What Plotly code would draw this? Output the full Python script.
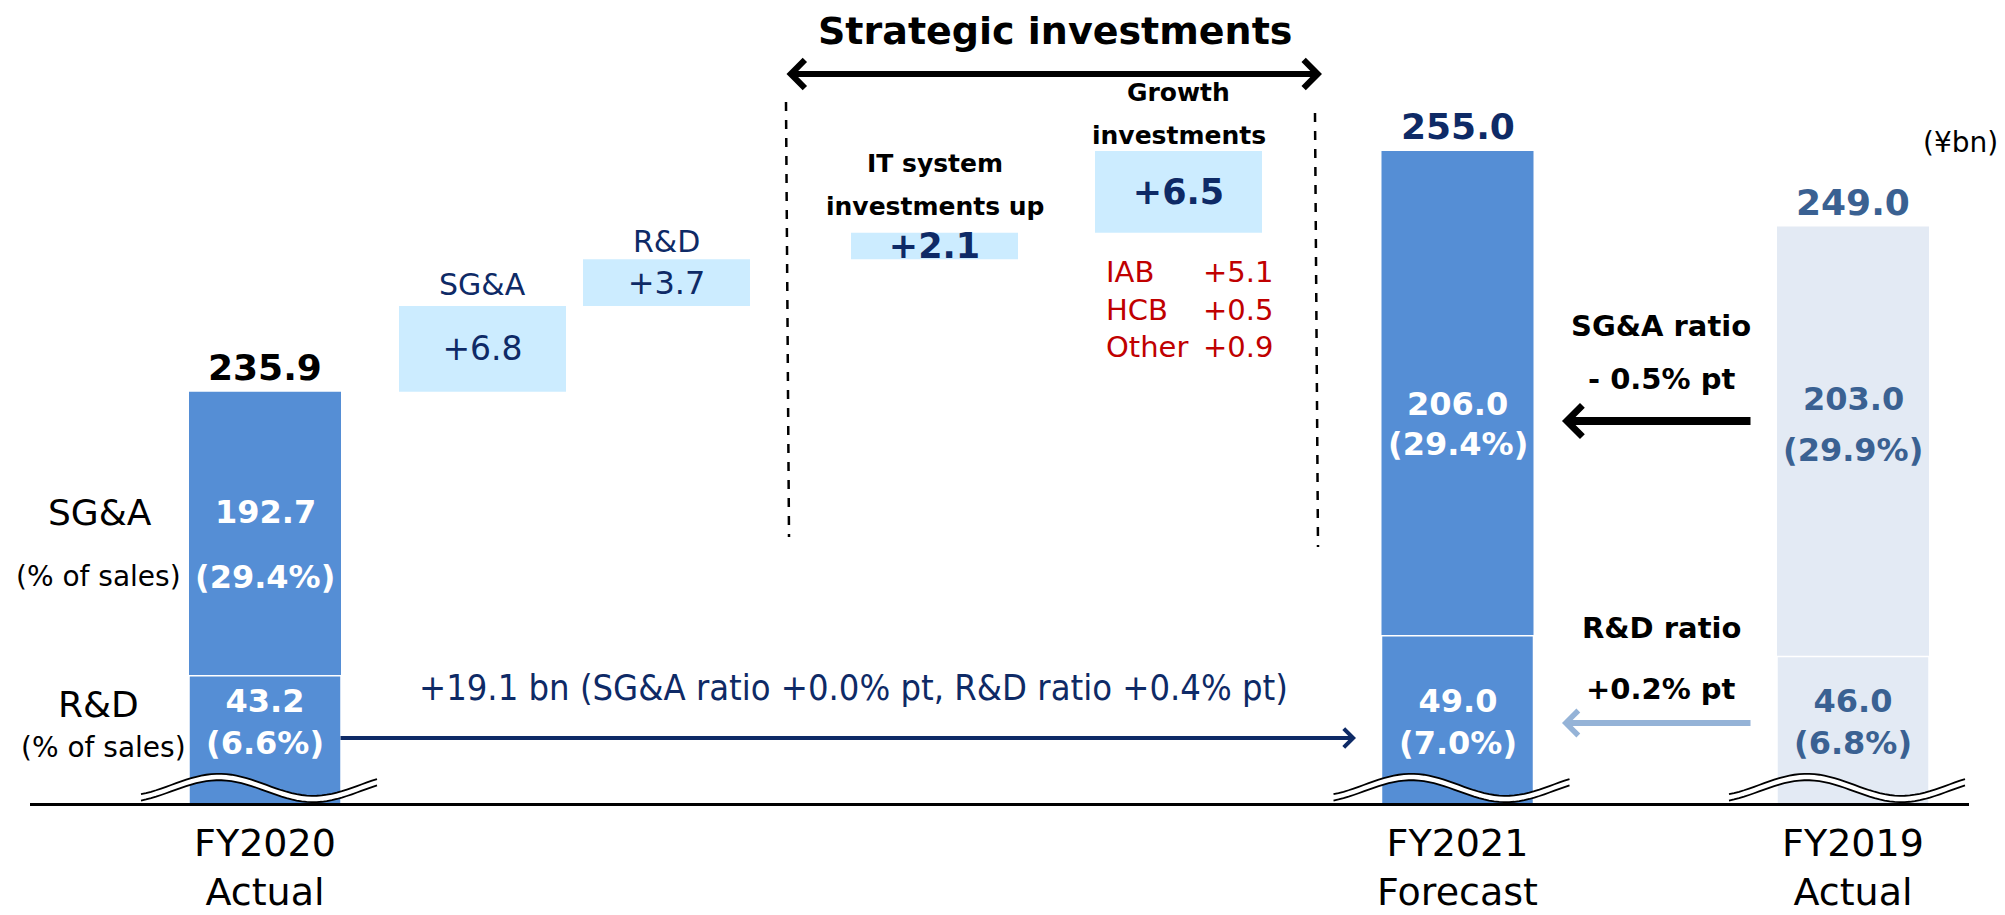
import numpy as np
import plotly.graph_objects as go

# ---------------- data ----------------
period_labels = ["FY2020<br>Actual", "FY2021<br>Forecast", "FY2019<br>Actual"]
sga_values = [192.7, 206.0, 203.0]
rd_values = [43.2, 49.0, 46.0]
total_values = [235.9, 255.0, 249.0]
sga_ratio = [29.4, 29.4, 29.9]
rd_ratio = [6.6, 7.0, 6.8]

step_names = ["SG&A", "R&D", "IT system<br>investments up", "Growth<br>investments"]
step_values = [6.8, 3.7, 2.1, 6.5]
step_strategic = [False, False, True, True]

growth_items = ["IAB", "HCB", "Other"]
growth_item_values = [5.1, 0.5, 0.9]

yoy_change_text = "+19.1 bn (SG&A ratio +0.0% pt, R&D ratio +0.4% pt)"
sga_ratio_change = ["SG&A ratio", "- 0.5% pt"]
rd_ratio_change = ["R&D ratio", "+0.2% pt"]
unit_label = "(¥bn)"
title_text = "Strategic investments"

# ---------------- layout / style ----------------
PAGE_OFF = 8                      # default body margin of the html page
W, H = 2005 - PAGE_OFF, 915 - PAGE_OFF
BASE_PX = 803                     # page y of the baseline
PLOT_H = BASE_PX - PAGE_OFF       # plot area height
period_x = [2.65, 14.575, 18.53]  # x positions (1 unit = 100 page px)
step_x = [4.825, 6.665, 9.345, 11.785]
BAR_W, BOX_W = 1.52, 1.67
Y_RANGE = [203.29, 266.33]        # broken axis, upper part
Y2_RANGE = [24.67, 140.39]        # broken axis, lower part (R&D)
SGA_LABEL_Y = [(512, 577), (404, 444), (399, 450)]   # page y of the two label lines
RD_LABEL_Y = 722

FONT = "DejaVu Sans"
BLUE = "#558ED5"
LIGHT = "#E3EAF4"
BOX = "#CCECFF"
NAVY = "#0E2A66"
STEEL = "#3A6192"
RED = "#C00000"
ARROW_LIGHT = "#95B3D7"
bar_colors = [BLUE, BLUE, LIGHT]
total_colors = ["#000000", NAVY, STEEL]
inner_colors = ["white", "white", STEEL]


def px_x(px):
    return (px - PAGE_OFF) / W


def px_y(py):
    return 1 - (py - PAGE_OFF) / PLOT_H


def paper_text(txt, cx, cy, size, color="black", family=FONT, **kw):
    d = dict(x=px_x(cx), y=px_y(cy), xref="paper", yref="paper", text=txt,
             showarrow=False, xanchor="center", yanchor="middle",
             font=dict(family=family, size=size, color=color))
    d.update(kw)
    return d


def paper_arrow(head, tail, width, size, color, **kw):
    d = dict(x=px_x(head[0]), y=px_y(head[1]), xref="paper", yref="paper", text="",
             showarrow=True, ax=tail[0] - head[0], ay=tail[1] - head[1],
             arrowhead=4, arrowwidth=width, arrowsize=size, arrowcolor=color,
             standoff=0)
    d.update(kw)
    return d


fig = go.Figure()

# totals (SG&A + R&D), upper scale
fig.add_bar(x=period_x, y=total_values, width=BAR_W, yaxis="y",
            marker=dict(color=bar_colors, line=dict(width=0)),
            name="Total", hoverinfo="x+y")
# R&D part, lower scale (broken axis)
fig.add_bar(x=period_x, y=rd_values, width=BAR_W, yaxis="y2",
            marker=dict(color=bar_colors, line=dict(color="white", width=1.5)),
            name="R&D", hoverinfo="x+y")

# waterfall steps
bases = []
acc = total_values[0]
for v in step_values:
    bases.append(acc)
    acc += v
step_text = [("<b>+%.1f</b>" if s else "+%.1f") % v for v, s in zip(step_values, step_strategic)]
fig.add_bar(x=step_x, y=step_values, base=bases, width=BOX_W, yaxis="y",
            marker=dict(color=BOX, line=dict(width=0)),
            text=step_text, textposition="inside", insidetextanchor="middle",
            constraintext="none", textangle=0,
            textfont=dict(family=FONT, size=[33, 32, 35, 35], color=NAVY),
            name="Change", hoverinfo="y")

ann = []

# total labels above bars
for x, t, c in zip(period_x, total_values, total_colors):
    ann.append(dict(x=x, y=t, xref="x", yref="y", text="<b>%.1f</b>" % t,
                    showarrow=False, xanchor="center", yanchor="bottom", yshift=2,
                    font=dict(family=FONT, size=36, color=c)))

# SG&A labels in the SG&A segment
for x, s, p, c, (y1, y2) in zip(period_x, sga_values, sga_ratio, inner_colors, SGA_LABEL_Y):
    for txt, yy in (("<b>%.1f</b>" % s, y1), ("<b>(%.1f%%)</b>" % p, y2)):
        ann.append(dict(x=x, y=px_y(yy), xref="x", yref="paper", text=txt,
                        showarrow=False, xanchor="center", yanchor="middle",
                        font=dict(family=FONT, size=32, color=c)))

# R&D labels on the R&D row
for x, r, p, c in zip(period_x, rd_values, rd_ratio, inner_colors):
    ann.append(dict(x=x, y=px_y(RD_LABEL_Y), xref="x", yref="paper",
                    text="<b>%.1f</b><br><b>(%.1f%%)</b>" % (r, p),
                    showarrow=False, xanchor="center", yanchor="middle",
                    font=dict(family=FONT, size=32, color=c)))

# row labels on the left
for txt, cx, cy, size in [("SG&A", 100, 512, 36), ("(% of sales)", 98, 576, 28),
                          ("R&D", 98, 704, 36), ("(% of sales)", 103, 747, 28)]:
    ann.append(paper_text(txt, cx, cy, size))

# step labels above the boxes
label_offsets = [22, 18, 26, 15]
label_styles = [(30, NAVY, False), (30, NAVY, False), (25, "black", True), (25, "black", True)]
for x, b, v, name, off, (size, col, bold) in zip(step_x, bases, step_values, step_names,
                                                 label_offsets, label_styles):
    lines = name.split("<br>")
    for i, line in enumerate(reversed(lines)):
        ann.append(dict(x=x, y=b + v, xref="x", yref="y",
                        text=("<b>%s</b>" % line) if bold else line,
                        showarrow=False, xanchor="center", yanchor="middle",
                        yshift=off + i * 43,
                        font=dict(family=FONT, size=size, color=col)))

# growth breakdown (red)
ann.append(dict(x=step_x[3], y=bases[3], xref="x", yref="y",
                text="<br>".join(growth_items), align="left", showarrow=False,
                xanchor="left", yanchor="middle", xshift=-75, yshift=-77,
                font=dict(family=FONT, size=29, color=RED)))
ann.append(dict(x=step_x[3], y=bases[3], xref="x", yref="y",
                text="<br>".join("+%.1f" % v for v in growth_item_values), align="right",
                showarrow=False, xanchor="right", yanchor="middle", xshift=96, yshift=-77,
                font=dict(family=FONT, size=29, color=RED)))

# title of strategic block and its double arrow
ann.append(paper_text("<b>%s</b>" % title_text, 1055, 31, 38))
ann.append(paper_arrow((1322, 74), (785, 74), 6, 0.9, "black",
                       startarrowhead=4, arrowside="end+start", startarrowsize=0.9,
                       startstandoff=0))

# year-on-year change arrow
ann.append(paper_text(yoy_change_text, 853, 687, 36, NAVY,
                      family="Liberation Sans Narrow, DejaVu Sans Condensed, Liberation Sans"))
ann.append(paper_arrow((1356, 738), (339, 738), 4, 0.9, NAVY))

# ratio change arrows (FY2019 -> FY2021)
ann.append(paper_text("<b>%s</b>" % sga_ratio_change[0], 1661, 326, 29))
ann.append(paper_text("<b>%s</b>" % sga_ratio_change[1], 1661, 379, 29))
ann.append(paper_arrow((1562, 421), (1752, 421), 8, 0.75, "black"))
ann.append(paper_text("<b>%s</b>" % rd_ratio_change[0], 1661, 628, 29))
ann.append(paper_text("<b>%s</b>" % rd_ratio_change[1], 1661, 689, 29))
ann.append(paper_arrow((1562, 723), (1752, 723), 6, 0.8, ARROW_LIGHT))

# unit
ann.append(paper_text(unit_label, 1960, 143, 28))

# shapes: dashed separators and axis-break waves
shapes = [
    dict(type="line", xref="paper", yref="paper", x0=px_x(786), y0=px_y(102),
         x1=px_x(789), y1=px_y(537), line=dict(color="black", width=2.5, dash="dash")),
    dict(type="line", xref="paper", yref="paper", x0=px_x(1315), y0=px_y(113),
         x1=px_x(1318), y1=px_y(547), line=dict(color="black", width=2.5, dash="dash")),
]


def wave(x_left, x_right, offset):
    ts = np.linspace(0, 1, 48)
    xs = x_left + ts * (x_right - x_left)
    ys = 788 - 11 * np.sin(2 * np.pi * (ts - 0.13) / 0.8) + offset
    return "M " + " L ".join("%.5f,%.5f" % (px_x(a), px_y(b)) for a, b in zip(xs, ys))


for x in period_x:
    cx = x * 100
    xl, xr = cx - BAR_W * 50 - 48, cx + BAR_W * 50 + 36
    shapes.append(dict(type="path", xref="paper", yref="paper", path=wave(xl, xr, 0),
                       line=dict(color="white", width=6)))
    for off in (-3.2, 3.2):
        shapes.append(dict(type="path", xref="paper", yref="paper", path=wave(xl, xr, off),
                           line=dict(color="black", width=1.8)))

fig.update_layout(
    width=W, height=H,
    margin=dict(l=0, r=0, t=0, b=H - PLOT_H, pad=0, autoexpand=False),
    paper_bgcolor="white", plot_bgcolor="white",
    barmode="overlay", showlegend=False,
    font=dict(family=FONT),
    xaxis=dict(domain=[(30 - PAGE_OFF) / W, (1969 - PAGE_OFF) / W], range=[0.30, 19.69],
               automargin=False,
               showline=True, linecolor="black", linewidth=3,
               showgrid=False, zeroline=False,
               tickmode="array", tickvals=period_x, ticktext=period_labels,
               ticks="outside", ticklen=4, tickcolor="rgba(0,0,0,0)",
               tickfont=dict(family=FONT, size=38, color="black"), fixedrange=True),
    yaxis=dict(range=Y_RANGE, visible=False, fixedrange=True, automargin=False),
    yaxis2=dict(range=Y2_RANGE, overlaying="y", visible=False, fixedrange=True,
                automargin=False),
    annotations=ann, shapes=shapes,
)

fig.write_html("out.html")
